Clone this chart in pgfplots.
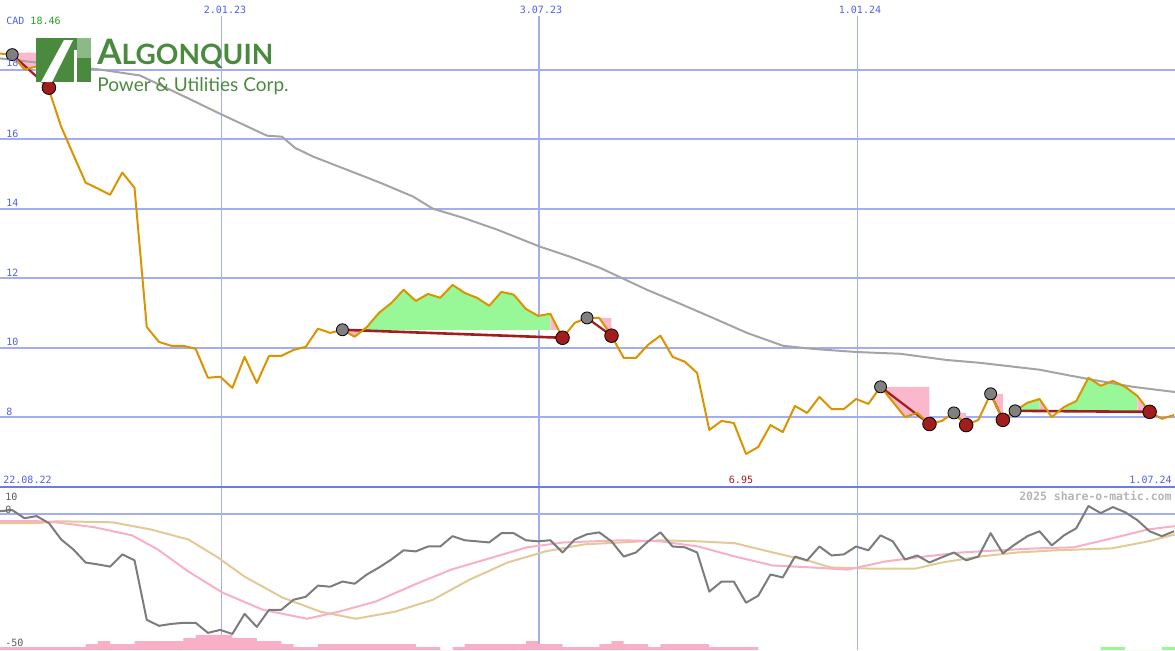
\documentclass[border=0pt]{standalone}
\usepackage{pgfplots}
\pgfplotsset{compat=1.18}
\usepackage{pgfplotstable}
\usepackage{fontspec}
\setmainfont{DejaVu Sans Mono}
\newfontfamily\logofont{Lato}

\definecolor{gridblue}{HTML}{A4ACF2}
\definecolor{sepblue}{HTML}{6C7CE4}
\definecolor{labblue}{HTML}{4F5FF0}
\definecolor{priceor}{HTML}{DB9400}
\definecolor{magray}{HTML}{A4A4A4}
\definecolor{upgreen}{HTML}{98F898}
\definecolor{dnpink}{HTML}{FBB8CC}
\definecolor{sigred}{HTML}{A21D1D}
\definecolor{peakgray}{HTML}{808080}
\definecolor{momgray}{HTML}{7C7C7C}
\definecolor{mapink}{HTML}{F8B0C6}
\definecolor{matan}{HTML}{E2CA98}
\definecolor{logogreen}{HTML}{4A8A3E}
\definecolor{logolight}{HTML}{8DB888}
\definecolor{textgreen}{HTML}{22A022}
\definecolor{wmgray}{HTML}{B4B4B4}

% weekly close (p) and momentum (m), week 0 = 22.08.22
\pgfplotstableread{
w p m
0 18.46 1.1
1 18.43 1.5
2 18.00 -1.5
3 18.09 -0.7
4 17.42 -3.3
5 16.36 -9.3
6 15.55 -13.0
7 14.75 -17.8
8 14.58 -18.5
9 14.40 -19.3
10 15.04 -14.8
11 14.60 -17.0
12 10.60 -38.9
13 10.17 -41.1
14 10.06 -40.4
15 10.06 -40.0
16 9.97 -40.0
17 9.14 -43.7
18 9.17 -42.6
19 8.85 -44.1
20 9.74 -36.7
21 8.99 -41.5
22 9.77 -35.2
23 9.77 -35.2
24 9.94 -31.5
25 10.03 -30.4
26 10.55 -26.3
27 10.43 -26.7
28 10.52 -24.8
29 10.32 -25.6
30 10.60 -22.2
31 11.01 -19.6
32 11.29 -16.7
33 11.67 -13.3
34 11.35 -13.7
35 11.55 -11.9
36 11.44 -11.9
37 11.81 -8.1
38 11.58 -9.6
39 11.44 -10.0
40 11.21 -10.4
41 11.61 -7.0
42 11.53 -7.0
43 11.12 -9.6
44 10.92 -10.0
45 10.98 -9.6
46 10.29 -14.1
47 10.72 -9.3
48 10.86 -7.4
49 10.86 -6.7
50 10.35 -10.0
51 9.71 -15.6
52 9.71 -14.1
53 10.09 -10.0
54 10.35 -6.7
55 9.74 -11.9
56 9.60 -12.2
57 9.28 -14.1
58 7.64 -28.5
59 7.90 -24.8
60 7.84 -24.8
61 6.95 -32.6
62 7.15 -30.0
63 7.78 -22.2
64 7.58 -23.3
65 8.33 -15.6
66 8.13 -17.0
67 8.59 -11.9
68 8.24 -15.2
69 8.24 -14.8
70 8.53 -11.9
71 8.39 -13.3
72 8.88 -7.8
73 8.45 -10.0
74 8.01 -16.7
75 8.13 -15.2
76 7.81 -17.8
77 7.90 -15.9
78 8.13 -14.1
79 7.78 -17.0
80 7.93 -15.6
81 8.68 -7.0
82 7.93 -14.4
83 8.19 -11.1
84 8.42 -8.1
85 8.53 -6.3
86 8.01 -11.5
87 8.30 -7.8
88 8.47 -5.2
89 9.14 3.0
90 8.91 0.4
91 9.05 2.6
92 8.88 0.7
93 8.62 -2.2
94 8.16 -6.3
95 7.96 -8.1
96 8.07 -6.3
}\weekly

% long moving average of the close
\pgfplotstableread{
w v
0 18.32
8.18 18.00
11.45 17.83
15.29 17.19
17.99 16.73
21.83 16.10
23.06 16.07
24.12 15.75
25.59 15.50
28.37 15.12
31.07 14.75
33.77 14.35
35.40 14.00
37.86 13.74
40.64 13.40
44.15 12.91
46.61 12.62
49.06 12.30
52.90 11.67
55.60 11.27
58.30 10.86
61.08 10.43
64.02 10.06
66.48 9.97
70.07 9.88
73.59 9.83
77.43 9.65
80.13 9.57
85.04 9.37
87.24 9.22
89.37 9.08
92.64 8.88
96.07 8.73
}\sma

% momentum averages (fast pink, slow tan)
\pgfplotstableread{
w v
0 -2.6
3.1 -2.6
4.6 -3.0
7.7 -4.8
10.8 -7.8
12.9 -13.0
15.4 -21.1
18.2 -28.9
21.5 -35.2
25.1 -38.5
27.7 -35.9
30.7 -32.2
33.9 -25.9
36.9 -20.4
40.0 -16.3
43.1 -12.2
46.1 -10.4
50.9 -9.6
54.0 -10.0
57.1 -11.9
60.1 -15.6
63.2 -18.9
66.3 -19.6
69.3 -20.4
72.4 -17.4
75.6 -15.6
78.6 -14.1
81.7 -13.3
84.7 -12.6
87.8 -12.2
90.9 -8.9
93.9 -5.6
96.1 -4.4
}\mafast

\pgfplotstableread{
w v
0 -3.3
3.1 -3.3
4.6 -2.6
9.2 -3.0
12.3 -5.6
15.4 -9.3
17.8 -15.9
20.0 -23.0
23.1 -30.7
26.2 -35.9
29.1 -38.5
32.3 -35.9
35.4 -31.5
38.4 -24.1
41.5 -17.8
44.6 -13.7
47.8 -11.1
50.9 -10.4
54.0 -9.6
57.1 -10.0
60.1 -10.7
63.2 -14.1
66.3 -17.4
67.9 -19.6
70.9 -20.0
74.9 -20.0
77.0 -17.8
80.1 -15.6
83.2 -14.1
86.3 -13.3
90.9 -12.6
93.9 -10.0
96.1 -7.4
}\maslow

\begin{document}
\begin{tikzpicture}
% date lines (pixel grid: 0.5pt per px, origin top left)
\begin{scope}[x=0.5pt, y=-0.5pt, shift={(0,325pt)}]
\draw[gridblue, line width=0.5pt] (221,16) -- (221,650);
\draw[gridblue, line width=1pt] (539,16) -- (539,650);
\draw[gridblue, line width=0.5pt] (857,16) -- (857,650);
\end{scope}

\pgfplotsset{panel/.style={scale only axis, width=587.5pt, xmin=0, xmax=96.075,
  axis line style={draw=none}, xtick=\empty, yticklabels={}, major tick length=0pt,
  ymajorgrids, grid style={gridblue, line width=1pt}}}

\begin{axis}[panel, name=top, at={(0,81.5pt)}, anchor=south west, height=243.5pt,
  ymin=6, ymax=20, ytick={8,10,...,18}]
% drawdown and run-up areas
\addplot[fill=dnpink, draw=none] coordinates {(1,18.49) (4,18.49) (4,17.42) (3,18.09) (2,18.00) (1,18.43)};
\addplot[fill=dnpink, draw=none] coordinates {(28,10.52) (29,10.32) (29.71,10.52)};
\addplot[fill=upgreen, draw=none] coordinates {(29.71,10.52) (30,10.60) (31,11.01) (32,11.29) (33,11.67) (34,11.35) (35,11.55) (36,11.44) (37,11.81) (38,11.58) (39,11.44) (40,11.21) (41,11.61) (42,11.53) (43,11.12) (44,10.92) (45,10.98) (45,10.52)};
\addplot[fill=dnpink, draw=none] coordinates {(45,10.52) (45,10.98) (45.67,10.52)};
\addplot[fill=dnpink, draw=none] coordinates {(49,10.86) (50,10.86) (50,10.35)};
\addplot[fill=dnpink, draw=none] coordinates {(72,8.88) (76,8.88) (76,7.81) (75,8.13) (74,8.01) (73,8.45)};
\addplot[fill=dnpink, draw=none] coordinates {(78,8.13) (79,8.13) (79,7.78)};
\addplot[fill=dnpink, draw=none] coordinates {(81,8.68) (82,8.68) (82,7.93)};
\addplot[fill=upgreen, draw=none] coordinates {(83,8.19) (84,8.42) (85,8.53) (85,8.19)};
\addplot[fill=dnpink, draw=none] coordinates {(85,8.19) (85,8.53) (85.65,8.19)};
\addplot[fill=upgreen, draw=none] coordinates {(86.62,8.19) (87,8.30) (88,8.47) (89,9.14) (90,8.91) (91,9.05) (92,8.88) (93,8.62) (93,8.19)};
\addplot[fill=dnpink, draw=none] coordinates {(93,8.19) (93,8.62) (93.93,8.19)};
% moving average
\addplot[magray, line width=1pt] table[x=w, y=v] {\sma};
% peaks and troughs
\addplot[only marks, mark=*, mark size=3pt, mark options={fill=peakgray, draw=none}] coordinates {(1,18.43) (28,10.52) (48,10.86) (72,8.88) (78,8.13) (81,8.68) (83,8.19)};
\addplot[only marks, mark=*, mark size=3.4pt, mark options={fill=sigred, draw=none}] coordinates {(4,17.48) (46,10.29) (50,10.35) (76,7.81) (79,7.78) (82,7.93) (94,8.16)};
\addplot[sigred, line width=1.1pt] coordinates {(1,18.43) (4,17.48)};
\addplot[sigred, line width=1.3pt] coordinates {(28,10.52) (46,10.29)};
\addplot[sigred, line width=1.1pt] coordinates {(48,10.86) (50,10.35)};
\addplot[sigred, line width=1.1pt] coordinates {(72,8.88) (76,7.81)};
\addplot[sigred, line width=1.1pt] coordinates {(78,8.13) (79,7.78)};
\addplot[sigred, line width=1.1pt] coordinates {(81,8.68) (82,7.93)};
\addplot[sigred, line width=1.3pt] coordinates {(83,8.19) (94,8.16)};
% close
\addplot[priceor, line width=1pt, line join=round] table[x=w, y=p] {\weekly};
\end{axis}

% volume
\begin{axis}[scale only axis, width=587.5pt, height=81.5pt, at={(0,0)}, anchor=south west,
  xmin=0, xmax=96.075, ymin=0, ymax=60, hide axis]
\addplot[ybar interval, fill=mapink, draw=none] coordinates {(0,1.1) (7,2.2) (8,3.3) (9,2.2) (11,3.3) (15,4.4) (16,5.6) (19,4.4) (21,3.3) (23,2.2) (24,1.1) (26,2.2) (34,1.1) (36,0) (37,1.1) (38,2.2) (43,3.3) (44,2.2) (46,1.1) (49,2.2) (50,3.3) (51,2.2) (53,1.1) (54,2.2) (58,1.1) (62,0)};
\addplot[ybar interval, fill=upgreen, draw=none] coordinates {(90,1.1) (92,0) (95,1.1) (96.075,0)};
\end{axis}

% momentum panel
\begin{axis}[panel, name=bot, at={(0,0)}, anchor=south west, height=81.5pt,
  ymin=-50, ymax=10, ytick={0}]
\addplot[matan, line width=1pt] table[x=w, y=v] {\maslow};
\addplot[mapink, line width=1pt] table[x=w, y=v] {\mafast};
\addplot[momgray, line width=1pt, line join=round] table[x=w, y=m] {\weekly};
\end{axis}

% labels and logo
\begin{scope}[x=0.5pt, y=-0.5pt, shift={(0,325pt)}]
\draw[sepblue, line width=1.4pt] (0,487) -- (1175,487);
\fill[logogreen] (36,38) rectangle (91,82);
\fill[logolight] (77,38) rectangle (91,58);
\fill[white] (41,82) -- (64,40) -- (73,40) -- (52,82) -- cycle;
\fill[white] (74,50) rectangle (77,82);
\node[anchor=base west, inner sep=0, text=logogreen] at (97,64)
  {\logofont\bfseries\fontsize{17.5}{18}\selectfont A\fontsize{14}{14}\selectfont LGONQUIN};
\node[anchor=base west, inner sep=0, text=logogreen] at (97,91)
  {\logofont\fontsize{9.5}{10}\selectfont Power \& Utilities Corp.};
\begin{scope}[every node/.style={inner sep=0, font=\fontsize{5}{6}\selectfont}]
\node[anchor=base west, text=labblue] at (6,25) {CAD \textcolor{textgreen}{18.46}};
\node[anchor=base, text=labblue] at (225,13) {2.01.23};
\node[anchor=base, text=labblue] at (541,13) {3.07.23};
\node[anchor=base, text=labblue] at (860,13) {1.01.24};
\node[anchor=base west, text=labblue] at (6,67) {18};
\node[anchor=base west, text=labblue] at (6,137) {16};
\node[anchor=base west, text=labblue] at (6,206) {14};
\node[anchor=base west, text=labblue] at (6,276) {12};
\node[anchor=base west, text=labblue] at (6,345) {10};
\node[anchor=base west, text=labblue] at (6,415) {8};
\node[anchor=base west, text=labblue] at (3,483) {22.08.22};
\node[anchor=base east, text=labblue] at (1172,483) {1.07.24};
\node[anchor=base, text=sigred] at (741,483) {6.95};
\node[anchor=base west, text=black!65] at (5,500) {10};
\node[anchor=base west, text=black!65] at (5,513) {0};
\node[anchor=base west, text=black!65] at (5,646) {-50};
\node[anchor=base east, text=wmgray, font=\fontsize{5.75}{6}\selectfont\bfseries] at (1172,500) {2025 share-o-matic.com};
\end{scope}
\end{scope}
\pgfresetboundingbox
\path (0,0) rectangle (587.5pt,325pt);
\end{tikzpicture}
\end{document}
